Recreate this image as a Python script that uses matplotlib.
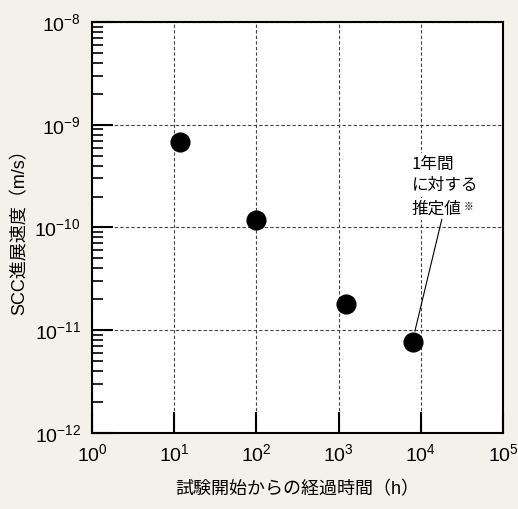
import matplotlib
matplotlib.use("Agg")
import matplotlib.pyplot as plt
from matplotlib.ticker import LogLocator, NullLocator

# data
hours = [11.7, 100, 1230, 8000]
rate = [6.8e-10, 1.18e-10, 1.82e-11, 7.6e-12]

note_top = "1年間\nに対する"
note_bottom = "推定値"
note_mark = "※"
xlabel = "試験開始からの経過時間（h）"
ylabel = "SCC進展速度（m/s）"

plt.rcParams['font.family'] = ['Liberation Sans', 'Noto Sans CJK JP', 'DejaVu Sans']
plt.rcParams['mathtext.fontset'] = 'custom'
plt.rcParams['mathtext.rm'] = 'Liberation Sans'
plt.rcParams['mathtext.default'] = 'regular'

bg = "#f4f0ea"
fig = plt.figure(figsize=(5.18, 5.09), dpi=100, facecolor=bg)
ax = fig.add_axes([0.1776, 0.1493, 0.7934, 0.8075])
ax.set_facecolor("white")

ax.set_xscale("log")
ax.set_yscale("log")
ax.set_xlim(1, 1e5)
ax.set_ylim(1e-12, 1e-8)

ax.plot(hours, rate, "o", color="black", markersize=13.5, zorder=3)

ax.set_xticks([10.0 ** k for k in range(0, 6)])
ax.xaxis.set_minor_locator(NullLocator())
ax.set_yticks([10.0 ** k for k in range(-12, -7)])
ax.yaxis.set_minor_locator(LogLocator(base=10, subs=range(2, 10), numticks=10))

ax.grid(True, which="major", linestyle=(0, (3, 2)), color="#444444", linewidth=0.8)

ax.tick_params(which="major", direction="in", length=15, width=1.5,
               labelsize=14, top=False, right=False)
ax.tick_params(axis="x", which="major", pad=7)
ax.tick_params(axis="y", which="major", pad=8)
ax.tick_params(which="minor", direction="in", length=8, width=1.2,
               top=False, right=False, labelleft=False)

for s in ax.spines.values():
    s.set_linewidth(1.5)

ax.set_xlabel(xlabel, fontsize=13, labelpad=12)
ax.set_ylabel(ylabel, fontsize=13, labelpad=4)

# note text with a white backing, a small ※ after the last line, and a leader line
cjk = ['Noto Sans CJK JP', 'DejaVu Sans']
box = dict(boxstyle="square,pad=0.15", fc="white", ec="none")
top = ax.text(7.8e3, 5.0e-10, note_top, fontsize=12, family=cjk,
              ha="left", va="top", linespacing=1.3, bbox=box, zorder=4)
bottom = ax.annotate(note_bottom, xy=(0.0, 0.0), xycoords=top,
                     xytext=(0, -5), textcoords="offset points",
                     fontsize=12, family=cjk, ha="left", va="top",
                     bbox=box, zorder=4)
ax.annotate(note_mark, xy=(1.0, 1.0), xycoords=bottom, xytext=(1, -1),
            textcoords="offset points", fontsize=7, family=cjk,
            ha="left", va="top", zorder=4)
ax.annotate("", xy=(hours[-1] * 1.06, rate[-1] * 1.29), xycoords="data",
            xytext=(0.6, -0.1), textcoords=bottom,
            arrowprops=dict(arrowstyle="-", color="black", lw=0.8,
                            shrinkA=0, shrinkB=0),
            zorder=4)

fig.savefig("out.png", dpi=100, facecolor=bg)
